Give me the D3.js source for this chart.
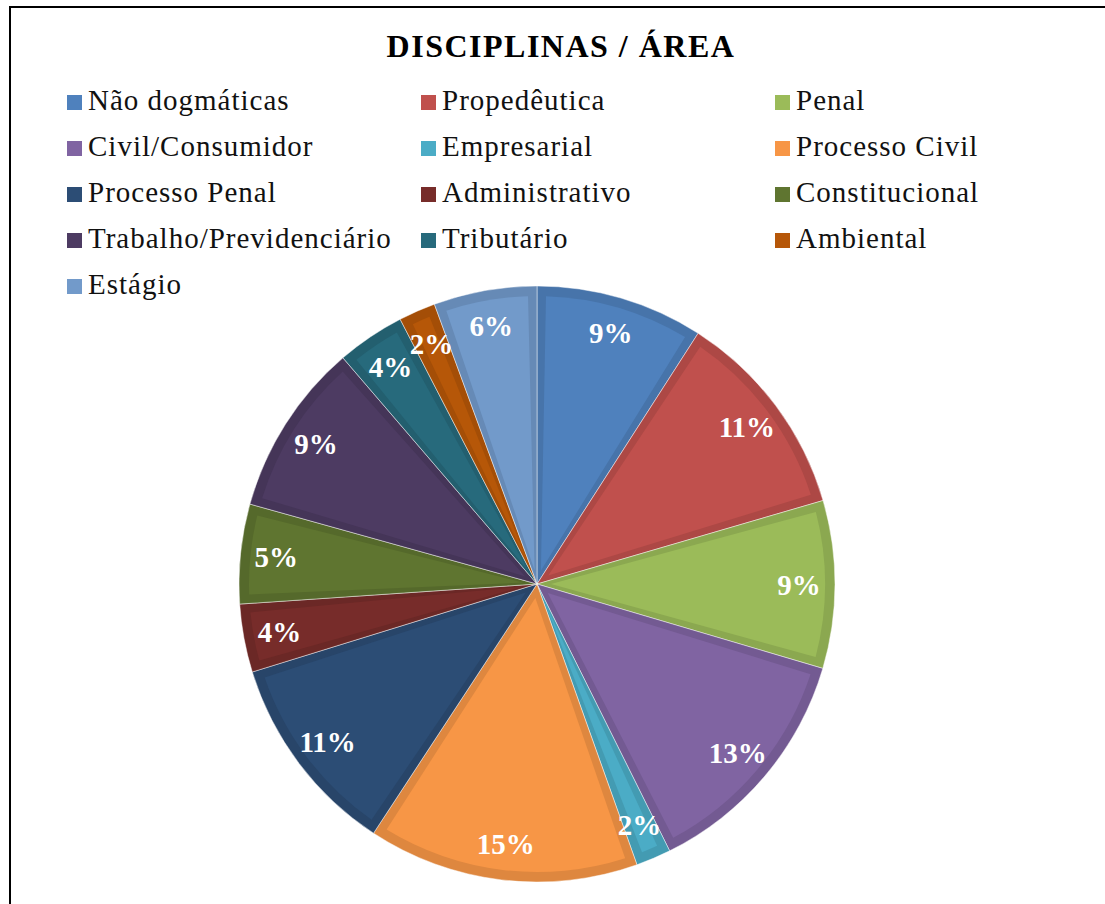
<!DOCTYPE html>
<html>
<head>
<meta charset="utf-8">
<script src="https://cdn.jsdelivr.net/npm/d3@7"></script>
<style>
  body { margin: 0; background: #fff; }
  svg { display: block; }
</style>
</head>
<body>
<div id="chart"></div>
<script>
const categories = ['Não dogmáticas', 'Propedêutica', 'Penal', 'Civil/Consumidor', 'Empresarial',
  'Processo Civil', 'Processo Penal', 'Administrativo', 'Constitucional',
  'Trabalho/Previdenciário', 'Tributário', 'Ambiental', 'Estágio'];
const values = [9.1, 11.4, 9.1, 13.1, 1.9, 14.7, 11.0, 3.7, 5.4, 9.4, 3.7, 2.0, 5.6];
const colors = ['#4f81bd', '#c0504d', '#9bbb59', '#8064a2', '#4bacc6', '#f79646',
  '#2c4d75', '#772c2a', '#5f7530', '#4d3b62', '#276a7c', '#b65708', '#729aca'];

const width = 1105;
const height = 904;
const cx = 537, cy = 584, R = 298;
const serif = '"Liberation Serif", "Times New Roman", Times, serif';

const svg = d3.select('#chart')
  .append('svg')
  .attr('width', width)
  .attr('height', height);

// frame
svg.append('rect')
  .attr('x', 10).attr('y', 7)
  .attr('width', 1120).attr('height', 960)
  .attr('fill', 'none')
  .attr('stroke', '#000')
  .attr('stroke-width', 2);

// title
svg.append('text')
  .attr('x', 561).attr('y', 57)
  .attr('text-anchor', 'middle')
  .style('font-family', serif)
  .style('font-size', '32px')
  .style('font-weight', 'bold')
  .style('letter-spacing', '1.5px')
  .text('DISCIPLINAS / ÁREA');

// legend
const legend = svg.append('g')
  .selectAll('g')
  .data(categories)
  .join('g')
  .attr('transform', (d, i) => `translate(${67 + (i % 3) * 354}, ${110 + Math.floor(i / 3) * 46})`);

legend.append('rect')
  .attr('x', 0).attr('y', -15)
  .attr('width', 15).attr('height', 15)
  .attr('fill', (d, i) => colors[i]);

legend.append('text')
  .attr('x', 21).attr('y', 0)
  .style('font-family', serif)
  .style('font-size', '29px')
  .style('letter-spacing', '1px')
  .attr('fill', '#111')
  .text(d => d);

// pie
const total = d3.sum(values);
const pie = d3.pie().sort(null).value(d => d);
const arcs = pie(values);

const outer = d3.arc().innerRadius(0).outerRadius(R);
const inner = d3.arc().innerRadius(14).outerRadius(R - 10)
  .padAngle(0.18).padRadius(100);
const labelArc = d3.arc().innerRadius(262).outerRadius(262);

const g = svg.append('g').attr('transform', `translate(${cx},${cy})`);

g.selectAll('path.edge')
  .data(arcs)
  .join('path')
  .attr('class', 'edge')
  .attr('d', outer)
  .attr('fill', (d, i) => d3.color(colors[i]).darker(0.3))
  .attr('stroke', 'rgba(255,255,255,0.45)')
  .attr('stroke-width', 1);

g.selectAll('path.face')
  .data(arcs)
  .join('path')
  .attr('class', 'face')
  .attr('d', inner)
  .attr('fill', (d, i) => colors[i]);

g.selectAll('text')
  .data(arcs)
  .join('text')
  .attr('transform', d => `translate(${labelArc.centroid(d)})`)
  .attr('text-anchor', 'middle')
  .attr('dy', '0.35em')
  .style('font-family', serif)
  .style('font-size', '29px')
  .style('font-weight', 'bold')
  .attr('fill', '#fff')
  .text(d => Math.round(d.value / total * 100) + '%');
</script>
</body>
</html>
